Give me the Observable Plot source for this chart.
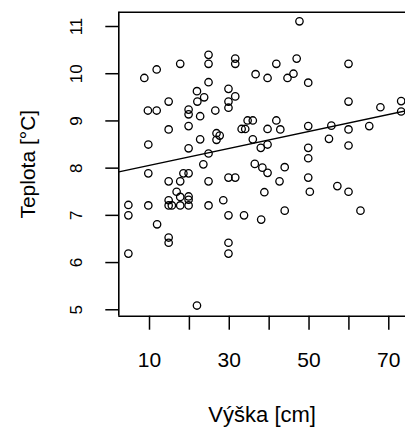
<!DOCTYPE html>
<html>
<head>
<meta charset="utf-8">
<script src="https://cdn.jsdelivr.net/npm/d3@7"></script>
<script src="https://cdn.jsdelivr.net/npm/@observablehq/plot@0.6"></script>
<style>
  html, body { margin: 0; padding: 0; background: #fff; }
  #chart { width: 405px; height: 430px; overflow: hidden; }
</style>
</head>
<body>
<div id="chart"></div>
<script>
// Height of plant [cm]
const heights = [
  4.7, 4.7, 4.7, 8.7, 9.6, 9.7, 9.7, 9.7, 11.8, 11.8,
  11.9, 14.8, 14.8, 14.8, 14.8, 14.8, 14.8, 14.8, 15.6, 16.8,
  17.7, 17.7, 17.7, 17.7, 18.5, 19.8, 19.8, 19.8, 19.8, 19.8,
  19.8, 19.8, 19.8, 21.9, 21.9, 22.0, 22.7, 22.7, 23.7, 23.5,
  24.8, 24.8, 24.8, 24.8, 24.8, 24.8, 26.5, 26.8, 27.6, 26.8,
  28.5, 29.8, 29.8, 29.8, 29.8, 29.8, 29.8, 29.8, 31.5, 31.5,
  31.5, 31.5, 33.1, 34.0, 33.7, 34.6, 35.9, 35.9, 36.6, 36.4,
  37.9, 38.3, 38.0, 38.8, 39.6, 39.6, 39.6, 39.6, 41.8, 41.8,
  42.8, 42.6, 43.9, 43.9, 44.6, 46.1, 46.9, 47.6, 49.8, 49.8,
  49.8, 49.8, 49.8, 50.2, 55.0, 55.6, 57.1, 59.9, 59.9, 59.9,
  59.9, 59.9, 62.9, 65.1, 67.9, 73.1, 73.1
];
// Temperature [°C]
const temps = [
  7.22, 7.00, 6.19, 9.91, 9.22, 8.50, 7.89, 7.21, 10.09, 9.22,
  6.81, 9.41, 8.82, 7.72, 7.32, 7.21, 6.53, 6.42, 7.21, 7.50,
  10.21, 7.72, 7.39, 7.21, 7.89, 9.24, 9.14, 8.89, 8.42, 7.89,
  7.40, 7.33, 7.21, 9.63, 5.09, 9.41, 9.10, 8.61, 9.50, 8.08,
  10.40, 10.21, 9.82, 8.31, 7.72, 7.21, 9.22, 8.74, 8.69, 8.60,
  7.32, 9.68, 9.41, 9.28, 7.80, 7.00, 6.42, 6.19, 10.32, 10.21,
  9.52, 7.80, 8.83, 8.83, 7.00, 9.01, 9.01, 8.61, 9.99, 8.09,
  8.43, 8.01, 6.91, 7.49, 9.91, 8.83, 8.50, 7.90, 10.21, 9.01,
  8.82, 7.72, 8.02, 7.10, 9.91, 10.00, 10.32, 11.11, 9.81, 8.89,
  8.43, 8.21, 7.80, 7.50, 8.62, 8.90, 7.62, 10.21, 9.41, 8.82,
  8.48, 7.50, 7.10, 8.89, 9.29, 9.42, 9.20
];
const xTicks = [10, 20, 30, 40, 50, 60, 70];
const xTickLabels = ["10", "", "30", "", "50", "", "70"];
const yTicks = [5, 6, 7, 8, 9, 10, 11];
const xTitle = "Výška [cm]";
const yTitle = "Teplota [°C]";

const xDomain = [2.3, 74.19];
const yDomain = [4.864, 11.303];

const data = heights.map((h, i) => ({h, t: temps[i]}));

// least-squares fit (like R's abline(lm(t ~ h)))
const mx = d3.mean(heights), my = d3.mean(temps);
const slope = d3.sum(data, d => (d.h - mx) * (d.t - my)) / d3.sum(data, d => (d.h - mx) ** 2);
const intercept = my - slope * mx;
const fitLine = xDomain.map(h => ({h, t: intercept + slope * h}));

const font = "'Liberation Sans', Arial, sans-serif";

const chart = Plot.plot({
  width: 405,
  height: 430,
  marginLeft: 118.3,
  marginRight: 0,
  marginTop: 11.7,
  marginBottom: 114.3,
  style: {fontFamily: font, background: "#fff", color: "#000", overflow: "visible"},
  x: {domain: xDomain, axis: null},
  y: {domain: yDomain, axis: null},
  marks: [
    // box (right side lies beyond the window)
    Plot.ruleY([yDomain[0], yDomain[1]], {stroke: "#000", strokeWidth: 1.6}),
    Plot.ruleX([xDomain[0]], {stroke: "#000", strokeWidth: 1.6}),
    // tick marks
    Plot.axisX({ticks: xTicks, tickSize: 14, tickPadding: 0, tickFormat: () => "", strokeWidth: 1.5, label: null}),
    Plot.axisY({ticks: yTicks, tickSize: 13, tickPadding: 0, tickFormat: () => "", strokeWidth: 1.5, label: null}),
    // tick labels
    Plot.text(xTicks, {x: d => d, text: (d, i) => xTickLabels[i], frameAnchor: "bottom", dy: 44, fontSize: 21, lineAnchor: "middle", fill: "#000"}),
    Plot.text(yTicks, {y: d => d, text: d => String(d), frameAnchor: "left", dx: -42, rotate: -90, fontSize: 17, lineAnchor: "middle", textAnchor: "middle", fill: "#000"}),
    // axis titles
    Plot.text([xTitle], {text: d => d, frameAnchor: "bottom", dy: 99, fontSize: 22, lineAnchor: "middle", fill: "#000"}),
    Plot.text([yTitle], {text: d => d, frameAnchor: "left", dx: -91, rotate: -90, fontSize: 21, lineAnchor: "middle", textAnchor: "middle", fill: "#000"}),
    // regression line
    Plot.line(fitLine, {x: "h", y: "t", stroke: "#000", strokeWidth: 1.5, clip: true}),
    // points
    Plot.dot(data, {x: "h", y: "t", r: 3.7, stroke: "#000", strokeWidth: 1.3, fill: "none", clip: true})
  ]
});
document.getElementById("chart").appendChild(chart);
</script>
</body>
</html>
